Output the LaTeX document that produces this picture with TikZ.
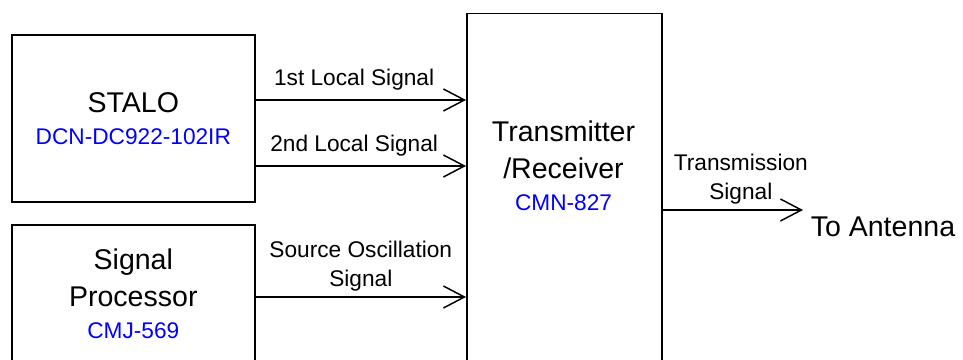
\documentclass[tikz,border=0pt]{standalone}
\usepackage{fontspec}
\setmainfont{Liberation Sans}
\usetikzlibrary{arrows.meta}

% Nombre de modelo en azul bajo cada bloque
\newcommand{\modelo}[1]{{\color{blue}\fontsize{17}{21}\selectfont #1}}

\begin{document}
\begin{tikzpicture}[x=0.75pt, y=-0.75pt,
    caja/.style={draw, line width=1.2pt, inner sep=0pt, align=center,
                 font=\fontsize{21.4}{27.5}\selectfont},
    senal/.style={line width=1.1pt, -{Straight Barb[length=15.75pt, width=16.5pt]}},
    etiq/.style={inner sep=0pt, align=center, font=\fontsize{17}{21.4}\selectfont}]
    % Parámetros: ancho de los bloques de la izquierda y del transceptor
    \def\anchoizq{182.25pt}
    \def\anchotrx{146.25pt}

    % Marco de la figura (los bloques inferiores se salen por abajo)
    \useasboundingbox (0,0) rectangle (963,360);

    % Bloque STALO
    \node[caja, anchor=north west, minimum width=\anchoizq, minimum height=124.9pt]
        (stalo) at (11,34.5) {STALO\\[-3.5pt]\modelo{DCN-DC922-102IR}};

    % Bloque procesador de señal
    \node[caja, anchor=north west, minimum width=\anchoizq, minimum height=103.5pt]
        (proc) at (11,224) {Signal\\Processor\\[-3.5pt]\modelo{CMJ-569}};

    % Transmisor/receptor: caja y texto aparte (el texto no va centrado)
    \node[caja, anchor=north west, minimum width=\anchotrx, minimum height=270pt]
        (trx) at (466,12.7) {};
    \node[caja, draw=none] (trxtexto) at (563.5,166)
        {Transmitter\\/Receiver\\[-3.5pt]\modelo{CMN-827}};

    % Señales de entrada
    \draw[senal] (stalo.east |- 0,100) -- (trx.west |- 0,100)
        node[etiq, midway, above=6.9pt, xshift=-5pt] {1st Local Signal};
    \draw[senal] (stalo.east |- 0,166) -- (trx.west |- 0,166)
        node[etiq, midway, above=6.9pt, xshift=-5pt] {2nd Local Signal};
    \draw[senal] (proc.east |- 0,297) -- (trx.west |- 0,297)
        node[etiq, midway, above=3.9pt] {Source Oscillation\\Signal};

    % Salida hacia la antena
    \coordinate (punta) at (803,210);
    \draw[senal] (trx.east |- punta) -- (punta)
        node[etiq, midway, above=3.9pt, xshift=6pt] {Transmission\\Signal};
    \node[caja, draw=none, anchor=base west] (antena) at (810,236) {To Antenna};
\end{tikzpicture}
\end{document}
